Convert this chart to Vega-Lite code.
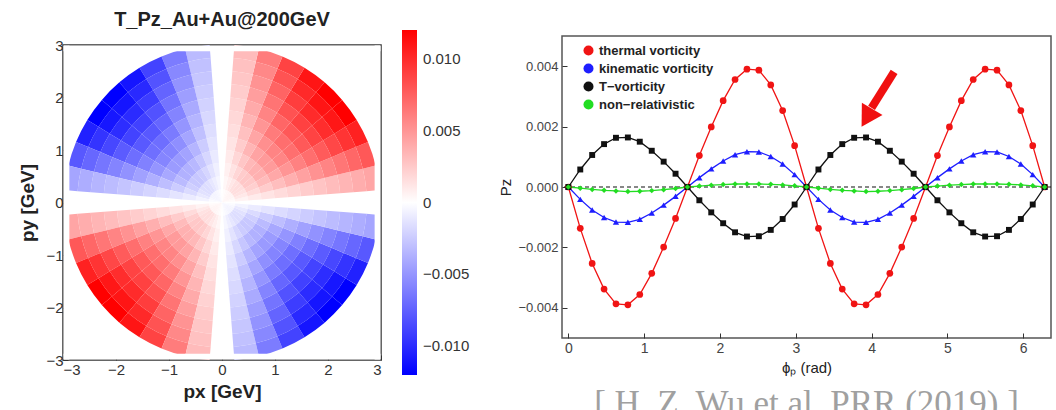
{
"$schema": "https://vega.github.io/schema/vega-lite/v6.json",
"background": "white",
"padding": {"left": 18, "top": 10, "right": 0, "bottom": 0},
"config": {"font": "Liberation Sans", "view": {"stroke": "#333", "strokeWidth": 1.5}, "axis": {"zindex": 1, "grid": false, "domain": false, "tickColor": "#333", "labelColor": "#333", "titleColor": "#222"}},
"datasets": {
"polar": [
{"a":4.5,"b":13.5,"r":0,"s":0.25,"v":0.00018},{"a":4.5,"b":13.5,"r":0.25,"s":0.5,"v":0.00055},{"a":4.5,"b":13.5,"r":0.5,"s":0.75,"v":0.00092},{"a":4.5,"b":13.5,"r":0.75,"s":1,"v":0.00129},{"a":4.5,"b":13.5,"r":1,"s":1.25,"v":0.00166},{"a":4.5,"b":13.5,"r":1.25,"s":1.5,"v":0.00203},{"a":4.5,"b":13.5,"r":1.5,"s":1.75,"v":0.0024},{"a":4.5,"b":13.5,"r":1.75,"s":2,"v":0.00276},{"a":4.5,"b":13.5,"r":2,"s":2.25,"v":0.00313},{"a":4.5,"b":13.5,"r":2.25,"s":2.5,"v":0.0035},{"a":4.5,"b":13.5,"r":2.5,"s":2.75,"v":0.00387},{"a":4.5,"b":13.5,"r":2.75,"s":3,"v":0.00424},
{"a":13.5,"b":22.5,"r":0,"s":0.25,"v":0.00034},{"a":13.5,"b":22.5,"r":0.25,"s":0.5,"v":0.00102},{"a":13.5,"b":22.5,"r":0.5,"s":0.75,"v":0.0017},{"a":13.5,"b":22.5,"r":0.75,"s":1,"v":0.00239},{"a":13.5,"b":22.5,"r":1,"s":1.25,"v":0.00307},{"a":13.5,"b":22.5,"r":1.25,"s":1.5,"v":0.00375},{"a":13.5,"b":22.5,"r":1.5,"s":1.75,"v":0.00443},{"a":13.5,"b":22.5,"r":1.75,"s":2,"v":0.00511},{"a":13.5,"b":22.5,"r":2,"s":2.25,"v":0.00579},{"a":13.5,"b":22.5,"r":2.25,"s":2.5,"v":0.00647},{"a":13.5,"b":22.5,"r":2.5,"s":2.75,"v":0.00716},{"a":13.5,"b":22.5,"r":2.75,"s":3,"v":0.00784},
{"a":22.5,"b":31.5,"r":0,"s":0.25,"v":0.00046},{"a":22.5,"b":31.5,"r":0.25,"s":0.5,"v":0.00137},{"a":22.5,"b":31.5,"r":0.5,"s":0.75,"v":0.00228},{"a":22.5,"b":31.5,"r":0.75,"s":1,"v":0.00319},{"a":22.5,"b":31.5,"r":1,"s":1.25,"v":0.0041},{"a":22.5,"b":31.5,"r":1.25,"s":1.5,"v":0.00501},{"a":22.5,"b":31.5,"r":1.5,"s":1.75,"v":0.00592},{"a":22.5,"b":31.5,"r":1.75,"s":2,"v":0.00683},{"a":22.5,"b":31.5,"r":2,"s":2.25,"v":0.00774},{"a":22.5,"b":31.5,"r":2.25,"s":2.5,"v":0.00865},{"a":22.5,"b":31.5,"r":2.5,"s":2.75,"v":0.00956},{"a":22.5,"b":31.5,"r":2.75,"s":3,"v":0.01047},
{"a":31.5,"b":40.5,"r":0,"s":0.25,"v":0.00052},{"a":31.5,"b":40.5,"r":0.25,"s":0.5,"v":0.00156},{"a":31.5,"b":40.5,"r":0.5,"s":0.75,"v":0.0026},{"a":31.5,"b":40.5,"r":0.75,"s":1,"v":0.00365},{"a":31.5,"b":40.5,"r":1,"s":1.25,"v":0.00469},{"a":31.5,"b":40.5,"r":1.25,"s":1.5,"v":0.00573},{"a":31.5,"b":40.5,"r":1.5,"s":1.75,"v":0.00677},{"a":31.5,"b":40.5,"r":1.75,"s":2,"v":0.00781},{"a":31.5,"b":40.5,"r":2,"s":2.25,"v":0.00885},{"a":31.5,"b":40.5,"r":2.25,"s":2.5,"v":0.0099},{"a":31.5,"b":40.5,"r":2.5,"s":2.75,"v":0.01094},{"a":31.5,"b":40.5,"r":2.75,"s":3,"v":0.01198},
{"a":40.5,"b":49.5,"r":0,"s":0.25,"v":0.00053},{"a":40.5,"b":49.5,"r":0.25,"s":0.5,"v":0.00158},{"a":40.5,"b":49.5,"r":0.5,"s":0.75,"v":0.00263},{"a":40.5,"b":49.5,"r":0.75,"s":1,"v":0.00368},{"a":40.5,"b":49.5,"r":1,"s":1.25,"v":0.00473},{"a":40.5,"b":49.5,"r":1.25,"s":1.5,"v":0.00578},{"a":40.5,"b":49.5,"r":1.5,"s":1.75,"v":0.00683},{"a":40.5,"b":49.5,"r":1.75,"s":2,"v":0.00788},{"a":40.5,"b":49.5,"r":2,"s":2.25,"v":0.00893},{"a":40.5,"b":49.5,"r":2.25,"s":2.5,"v":0.00998},{"a":40.5,"b":49.5,"r":2.5,"s":2.75,"v":0.01103},{"a":40.5,"b":49.5,"r":2.75,"s":3,"v":0.01208},
{"a":49.5,"b":58.5,"r":0,"s":0.25,"v":0.00048},{"a":49.5,"b":58.5,"r":0.25,"s":0.5,"v":0.00144},{"a":49.5,"b":58.5,"r":0.5,"s":0.75,"v":0.0024},{"a":49.5,"b":58.5,"r":0.75,"s":1,"v":0.00336},{"a":49.5,"b":58.5,"r":1,"s":1.25,"v":0.00431},{"a":49.5,"b":58.5,"r":1.25,"s":1.5,"v":0.00527},{"a":49.5,"b":58.5,"r":1.5,"s":1.75,"v":0.00623},{"a":49.5,"b":58.5,"r":1.75,"s":2,"v":0.00719},{"a":49.5,"b":58.5,"r":2,"s":2.25,"v":0.00815},{"a":49.5,"b":58.5,"r":2.25,"s":2.5,"v":0.00911},{"a":49.5,"b":58.5,"r":2.5,"s":2.75,"v":0.01007},{"a":49.5,"b":58.5,"r":2.75,"s":3,"v":0.01102},
{"a":58.5,"b":67.5,"r":0,"s":0.25,"v":0.00038},{"a":58.5,"b":67.5,"r":0.25,"s":0.5,"v":0.00115},{"a":58.5,"b":67.5,"r":0.5,"s":0.75,"v":0.00192},{"a":58.5,"b":67.5,"r":0.75,"s":1,"v":0.00269},{"a":58.5,"b":67.5,"r":1,"s":1.25,"v":0.00346},{"a":58.5,"b":67.5,"r":1.25,"s":1.5,"v":0.00423},{"a":58.5,"b":67.5,"r":1.5,"s":1.75,"v":0.005},{"a":58.5,"b":67.5,"r":1.75,"s":2,"v":0.00577},{"a":58.5,"b":67.5,"r":2,"s":2.25,"v":0.00654},{"a":58.5,"b":67.5,"r":2.25,"s":2.5,"v":0.00731},{"a":58.5,"b":67.5,"r":2.5,"s":2.75,"v":0.00808},{"a":58.5,"b":67.5,"r":2.75,"s":3,"v":0.00885},
{"a":67.5,"b":76.5,"r":0,"s":0.25,"v":0.00027},{"a":67.5,"b":76.5,"r":0.25,"s":0.5,"v":0.0008},{"a":67.5,"b":76.5,"r":0.5,"s":0.75,"v":0.00134},{"a":67.5,"b":76.5,"r":0.75,"s":1,"v":0.00187},{"a":67.5,"b":76.5,"r":1,"s":1.25,"v":0.00241},{"a":67.5,"b":76.5,"r":1.25,"s":1.5,"v":0.00295},{"a":67.5,"b":76.5,"r":1.5,"s":1.75,"v":0.00348},{"a":67.5,"b":76.5,"r":1.75,"s":2,"v":0.00402},{"a":67.5,"b":76.5,"r":2,"s":2.25,"v":0.00455},{"a":67.5,"b":76.5,"r":2.25,"s":2.5,"v":0.00509},{"a":67.5,"b":76.5,"r":2.5,"s":2.75,"v":0.00562},{"a":67.5,"b":76.5,"r":2.75,"s":3,"v":0.00616},
{"a":76.5,"b":85.5,"r":0,"s":0.25,"v":0.00014},{"a":76.5,"b":85.5,"r":0.25,"s":0.5,"v":0.00042},{"a":76.5,"b":85.5,"r":0.5,"s":0.75,"v":0.0007},{"a":76.5,"b":85.5,"r":0.75,"s":1,"v":0.00098},{"a":76.5,"b":85.5,"r":1,"s":1.25,"v":0.00126},{"a":76.5,"b":85.5,"r":1.25,"s":1.5,"v":0.00154},{"a":76.5,"b":85.5,"r":1.5,"s":1.75,"v":0.00182},{"a":76.5,"b":85.5,"r":1.75,"s":2,"v":0.0021},{"a":76.5,"b":85.5,"r":2,"s":2.25,"v":0.00238},{"a":76.5,"b":85.5,"r":2.25,"s":2.5,"v":0.00266},{"a":76.5,"b":85.5,"r":2.5,"s":2.75,"v":0.00294},{"a":76.5,"b":85.5,"r":2.75,"s":3,"v":0.00322},
{"a":94.5,"b":103.5,"r":0,"s":0.25,"v":-0.00014},{"a":94.5,"b":103.5,"r":0.25,"s":0.5,"v":-0.00042},{"a":94.5,"b":103.5,"r":0.5,"s":0.75,"v":-0.0007},{"a":94.5,"b":103.5,"r":0.75,"s":1,"v":-0.00098},{"a":94.5,"b":103.5,"r":1,"s":1.25,"v":-0.00126},{"a":94.5,"b":103.5,"r":1.25,"s":1.5,"v":-0.00154},{"a":94.5,"b":103.5,"r":1.5,"s":1.75,"v":-0.00182},{"a":94.5,"b":103.5,"r":1.75,"s":2,"v":-0.0021},{"a":94.5,"b":103.5,"r":2,"s":2.25,"v":-0.00238},{"a":94.5,"b":103.5,"r":2.25,"s":2.5,"v":-0.00266},{"a":94.5,"b":103.5,"r":2.5,"s":2.75,"v":-0.00294},{"a":94.5,"b":103.5,"r":2.75,"s":3,"v":-0.00322},
{"a":103.5,"b":112.5,"r":0,"s":0.25,"v":-0.00027},{"a":103.5,"b":112.5,"r":0.25,"s":0.5,"v":-0.0008},{"a":103.5,"b":112.5,"r":0.5,"s":0.75,"v":-0.00134},{"a":103.5,"b":112.5,"r":0.75,"s":1,"v":-0.00187},{"a":103.5,"b":112.5,"r":1,"s":1.25,"v":-0.00241},{"a":103.5,"b":112.5,"r":1.25,"s":1.5,"v":-0.00295},{"a":103.5,"b":112.5,"r":1.5,"s":1.75,"v":-0.00348},{"a":103.5,"b":112.5,"r":1.75,"s":2,"v":-0.00402},{"a":103.5,"b":112.5,"r":2,"s":2.25,"v":-0.00455},{"a":103.5,"b":112.5,"r":2.25,"s":2.5,"v":-0.00509},{"a":103.5,"b":112.5,"r":2.5,"s":2.75,"v":-0.00562},{"a":103.5,"b":112.5,"r":2.75,"s":3,"v":-0.00616},
{"a":112.5,"b":121.5,"r":0,"s":0.25,"v":-0.00038},{"a":112.5,"b":121.5,"r":0.25,"s":0.5,"v":-0.00115},{"a":112.5,"b":121.5,"r":0.5,"s":0.75,"v":-0.00192},{"a":112.5,"b":121.5,"r":0.75,"s":1,"v":-0.00269},{"a":112.5,"b":121.5,"r":1,"s":1.25,"v":-0.00346},{"a":112.5,"b":121.5,"r":1.25,"s":1.5,"v":-0.00423},{"a":112.5,"b":121.5,"r":1.5,"s":1.75,"v":-0.005},{"a":112.5,"b":121.5,"r":1.75,"s":2,"v":-0.00577},{"a":112.5,"b":121.5,"r":2,"s":2.25,"v":-0.00654},{"a":112.5,"b":121.5,"r":2.25,"s":2.5,"v":-0.00731},{"a":112.5,"b":121.5,"r":2.5,"s":2.75,"v":-0.00808},{"a":112.5,"b":121.5,"r":2.75,"s":3,"v":-0.00885},
{"a":121.5,"b":130.5,"r":0,"s":0.25,"v":-0.00048},{"a":121.5,"b":130.5,"r":0.25,"s":0.5,"v":-0.00144},{"a":121.5,"b":130.5,"r":0.5,"s":0.75,"v":-0.0024},{"a":121.5,"b":130.5,"r":0.75,"s":1,"v":-0.00336},{"a":121.5,"b":130.5,"r":1,"s":1.25,"v":-0.00431},{"a":121.5,"b":130.5,"r":1.25,"s":1.5,"v":-0.00527},{"a":121.5,"b":130.5,"r":1.5,"s":1.75,"v":-0.00623},{"a":121.5,"b":130.5,"r":1.75,"s":2,"v":-0.00719},{"a":121.5,"b":130.5,"r":2,"s":2.25,"v":-0.00815},{"a":121.5,"b":130.5,"r":2.25,"s":2.5,"v":-0.00911},{"a":121.5,"b":130.5,"r":2.5,"s":2.75,"v":-0.01007},{"a":121.5,"b":130.5,"r":2.75,"s":3,"v":-0.01102},
{"a":130.5,"b":139.5,"r":0,"s":0.25,"v":-0.00053},{"a":130.5,"b":139.5,"r":0.25,"s":0.5,"v":-0.00158},{"a":130.5,"b":139.5,"r":0.5,"s":0.75,"v":-0.00263},{"a":130.5,"b":139.5,"r":0.75,"s":1,"v":-0.00368},{"a":130.5,"b":139.5,"r":1,"s":1.25,"v":-0.00473},{"a":130.5,"b":139.5,"r":1.25,"s":1.5,"v":-0.00578},{"a":130.5,"b":139.5,"r":1.5,"s":1.75,"v":-0.00683},{"a":130.5,"b":139.5,"r":1.75,"s":2,"v":-0.00788},{"a":130.5,"b":139.5,"r":2,"s":2.25,"v":-0.00893},{"a":130.5,"b":139.5,"r":2.25,"s":2.5,"v":-0.00998},{"a":130.5,"b":139.5,"r":2.5,"s":2.75,"v":-0.01103},{"a":130.5,"b":139.5,"r":2.75,"s":3,"v":-0.01208},
{"a":139.5,"b":148.5,"r":0,"s":0.25,"v":-0.00052},{"a":139.5,"b":148.5,"r":0.25,"s":0.5,"v":-0.00156},{"a":139.5,"b":148.5,"r":0.5,"s":0.75,"v":-0.0026},{"a":139.5,"b":148.5,"r":0.75,"s":1,"v":-0.00365},{"a":139.5,"b":148.5,"r":1,"s":1.25,"v":-0.00469},{"a":139.5,"b":148.5,"r":1.25,"s":1.5,"v":-0.00573},{"a":139.5,"b":148.5,"r":1.5,"s":1.75,"v":-0.00677},{"a":139.5,"b":148.5,"r":1.75,"s":2,"v":-0.00781},{"a":139.5,"b":148.5,"r":2,"s":2.25,"v":-0.00885},{"a":139.5,"b":148.5,"r":2.25,"s":2.5,"v":-0.0099},{"a":139.5,"b":148.5,"r":2.5,"s":2.75,"v":-0.01094},{"a":139.5,"b":148.5,"r":2.75,"s":3,"v":-0.01198},
{"a":148.5,"b":157.5,"r":0,"s":0.25,"v":-0.00046},{"a":148.5,"b":157.5,"r":0.25,"s":0.5,"v":-0.00137},{"a":148.5,"b":157.5,"r":0.5,"s":0.75,"v":-0.00228},{"a":148.5,"b":157.5,"r":0.75,"s":1,"v":-0.00319},{"a":148.5,"b":157.5,"r":1,"s":1.25,"v":-0.0041},{"a":148.5,"b":157.5,"r":1.25,"s":1.5,"v":-0.00501},{"a":148.5,"b":157.5,"r":1.5,"s":1.75,"v":-0.00592},{"a":148.5,"b":157.5,"r":1.75,"s":2,"v":-0.00683},{"a":148.5,"b":157.5,"r":2,"s":2.25,"v":-0.00774},{"a":148.5,"b":157.5,"r":2.25,"s":2.5,"v":-0.00865},{"a":148.5,"b":157.5,"r":2.5,"s":2.75,"v":-0.00956},{"a":148.5,"b":157.5,"r":2.75,"s":3,"v":-0.01047},
{"a":157.5,"b":166.5,"r":0,"s":0.25,"v":-0.00034},{"a":157.5,"b":166.5,"r":0.25,"s":0.5,"v":-0.00102},{"a":157.5,"b":166.5,"r":0.5,"s":0.75,"v":-0.0017},{"a":157.5,"b":166.5,"r":0.75,"s":1,"v":-0.00239},{"a":157.5,"b":166.5,"r":1,"s":1.25,"v":-0.00307},{"a":157.5,"b":166.5,"r":1.25,"s":1.5,"v":-0.00375},{"a":157.5,"b":166.5,"r":1.5,"s":1.75,"v":-0.00443},{"a":157.5,"b":166.5,"r":1.75,"s":2,"v":-0.00511},{"a":157.5,"b":166.5,"r":2,"s":2.25,"v":-0.00579},{"a":157.5,"b":166.5,"r":2.25,"s":2.5,"v":-0.00647},{"a":157.5,"b":166.5,"r":2.5,"s":2.75,"v":-0.00716},{"a":157.5,"b":166.5,"r":2.75,"s":3,"v":-0.00784},
{"a":166.5,"b":175.5,"r":0,"s":0.25,"v":-0.00018},{"a":166.5,"b":175.5,"r":0.25,"s":0.5,"v":-0.00055},{"a":166.5,"b":175.5,"r":0.5,"s":0.75,"v":-0.00092},{"a":166.5,"b":175.5,"r":0.75,"s":1,"v":-0.00129},{"a":166.5,"b":175.5,"r":1,"s":1.25,"v":-0.00166},{"a":166.5,"b":175.5,"r":1.25,"s":1.5,"v":-0.00203},{"a":166.5,"b":175.5,"r":1.5,"s":1.75,"v":-0.0024},{"a":166.5,"b":175.5,"r":1.75,"s":2,"v":-0.00276},{"a":166.5,"b":175.5,"r":2,"s":2.25,"v":-0.00313},{"a":166.5,"b":175.5,"r":2.25,"s":2.5,"v":-0.0035},{"a":166.5,"b":175.5,"r":2.5,"s":2.75,"v":-0.00387},{"a":166.5,"b":175.5,"r":2.75,"s":3,"v":-0.00424},
{"a":184.5,"b":193.5,"r":0,"s":0.25,"v":0.00018},{"a":184.5,"b":193.5,"r":0.25,"s":0.5,"v":0.00055},{"a":184.5,"b":193.5,"r":0.5,"s":0.75,"v":0.00092},{"a":184.5,"b":193.5,"r":0.75,"s":1,"v":0.00129},{"a":184.5,"b":193.5,"r":1,"s":1.25,"v":0.00166},{"a":184.5,"b":193.5,"r":1.25,"s":1.5,"v":0.00203},{"a":184.5,"b":193.5,"r":1.5,"s":1.75,"v":0.0024},{"a":184.5,"b":193.5,"r":1.75,"s":2,"v":0.00276},{"a":184.5,"b":193.5,"r":2,"s":2.25,"v":0.00313},{"a":184.5,"b":193.5,"r":2.25,"s":2.5,"v":0.0035},{"a":184.5,"b":193.5,"r":2.5,"s":2.75,"v":0.00387},{"a":184.5,"b":193.5,"r":2.75,"s":3,"v":0.00424},
{"a":193.5,"b":202.5,"r":0,"s":0.25,"v":0.00034},{"a":193.5,"b":202.5,"r":0.25,"s":0.5,"v":0.00102},{"a":193.5,"b":202.5,"r":0.5,"s":0.75,"v":0.0017},{"a":193.5,"b":202.5,"r":0.75,"s":1,"v":0.00239},{"a":193.5,"b":202.5,"r":1,"s":1.25,"v":0.00307},{"a":193.5,"b":202.5,"r":1.25,"s":1.5,"v":0.00375},{"a":193.5,"b":202.5,"r":1.5,"s":1.75,"v":0.00443},{"a":193.5,"b":202.5,"r":1.75,"s":2,"v":0.00511},{"a":193.5,"b":202.5,"r":2,"s":2.25,"v":0.00579},{"a":193.5,"b":202.5,"r":2.25,"s":2.5,"v":0.00647},{"a":193.5,"b":202.5,"r":2.5,"s":2.75,"v":0.00716},{"a":193.5,"b":202.5,"r":2.75,"s":3,"v":0.00784},
{"a":202.5,"b":211.5,"r":0,"s":0.25,"v":0.00046},{"a":202.5,"b":211.5,"r":0.25,"s":0.5,"v":0.00137},{"a":202.5,"b":211.5,"r":0.5,"s":0.75,"v":0.00228},{"a":202.5,"b":211.5,"r":0.75,"s":1,"v":0.00319},{"a":202.5,"b":211.5,"r":1,"s":1.25,"v":0.0041},{"a":202.5,"b":211.5,"r":1.25,"s":1.5,"v":0.00501},{"a":202.5,"b":211.5,"r":1.5,"s":1.75,"v":0.00592},{"a":202.5,"b":211.5,"r":1.75,"s":2,"v":0.00683},{"a":202.5,"b":211.5,"r":2,"s":2.25,"v":0.00774},{"a":202.5,"b":211.5,"r":2.25,"s":2.5,"v":0.00865},{"a":202.5,"b":211.5,"r":2.5,"s":2.75,"v":0.00956},{"a":202.5,"b":211.5,"r":2.75,"s":3,"v":0.01047},
{"a":211.5,"b":220.5,"r":0,"s":0.25,"v":0.00052},{"a":211.5,"b":220.5,"r":0.25,"s":0.5,"v":0.00156},{"a":211.5,"b":220.5,"r":0.5,"s":0.75,"v":0.0026},{"a":211.5,"b":220.5,"r":0.75,"s":1,"v":0.00365},{"a":211.5,"b":220.5,"r":1,"s":1.25,"v":0.00469},{"a":211.5,"b":220.5,"r":1.25,"s":1.5,"v":0.00573},{"a":211.5,"b":220.5,"r":1.5,"s":1.75,"v":0.00677},{"a":211.5,"b":220.5,"r":1.75,"s":2,"v":0.00781},{"a":211.5,"b":220.5,"r":2,"s":2.25,"v":0.00885},{"a":211.5,"b":220.5,"r":2.25,"s":2.5,"v":0.0099},{"a":211.5,"b":220.5,"r":2.5,"s":2.75,"v":0.01094},{"a":211.5,"b":220.5,"r":2.75,"s":3,"v":0.01198},
{"a":220.5,"b":229.5,"r":0,"s":0.25,"v":0.00053},{"a":220.5,"b":229.5,"r":0.25,"s":0.5,"v":0.00158},{"a":220.5,"b":229.5,"r":0.5,"s":0.75,"v":0.00263},{"a":220.5,"b":229.5,"r":0.75,"s":1,"v":0.00368},{"a":220.5,"b":229.5,"r":1,"s":1.25,"v":0.00473},{"a":220.5,"b":229.5,"r":1.25,"s":1.5,"v":0.00578},{"a":220.5,"b":229.5,"r":1.5,"s":1.75,"v":0.00683},{"a":220.5,"b":229.5,"r":1.75,"s":2,"v":0.00788},{"a":220.5,"b":229.5,"r":2,"s":2.25,"v":0.00893},{"a":220.5,"b":229.5,"r":2.25,"s":2.5,"v":0.00998},{"a":220.5,"b":229.5,"r":2.5,"s":2.75,"v":0.01103},{"a":220.5,"b":229.5,"r":2.75,"s":3,"v":0.01208},
{"a":229.5,"b":238.5,"r":0,"s":0.25,"v":0.00048},{"a":229.5,"b":238.5,"r":0.25,"s":0.5,"v":0.00144},{"a":229.5,"b":238.5,"r":0.5,"s":0.75,"v":0.0024},{"a":229.5,"b":238.5,"r":0.75,"s":1,"v":0.00336},{"a":229.5,"b":238.5,"r":1,"s":1.25,"v":0.00431},{"a":229.5,"b":238.5,"r":1.25,"s":1.5,"v":0.00527},{"a":229.5,"b":238.5,"r":1.5,"s":1.75,"v":0.00623},{"a":229.5,"b":238.5,"r":1.75,"s":2,"v":0.00719},{"a":229.5,"b":238.5,"r":2,"s":2.25,"v":0.00815},{"a":229.5,"b":238.5,"r":2.25,"s":2.5,"v":0.00911},{"a":229.5,"b":238.5,"r":2.5,"s":2.75,"v":0.01007},{"a":229.5,"b":238.5,"r":2.75,"s":3,"v":0.01102},
{"a":238.5,"b":247.5,"r":0,"s":0.25,"v":0.00038},{"a":238.5,"b":247.5,"r":0.25,"s":0.5,"v":0.00115},{"a":238.5,"b":247.5,"r":0.5,"s":0.75,"v":0.00192},{"a":238.5,"b":247.5,"r":0.75,"s":1,"v":0.00269},{"a":238.5,"b":247.5,"r":1,"s":1.25,"v":0.00346},{"a":238.5,"b":247.5,"r":1.25,"s":1.5,"v":0.00423},{"a":238.5,"b":247.5,"r":1.5,"s":1.75,"v":0.005},{"a":238.5,"b":247.5,"r":1.75,"s":2,"v":0.00577},{"a":238.5,"b":247.5,"r":2,"s":2.25,"v":0.00654},{"a":238.5,"b":247.5,"r":2.25,"s":2.5,"v":0.00731},{"a":238.5,"b":247.5,"r":2.5,"s":2.75,"v":0.00808},{"a":238.5,"b":247.5,"r":2.75,"s":3,"v":0.00885},
{"a":247.5,"b":256.5,"r":0,"s":0.25,"v":0.00027},{"a":247.5,"b":256.5,"r":0.25,"s":0.5,"v":0.0008},{"a":247.5,"b":256.5,"r":0.5,"s":0.75,"v":0.00134},{"a":247.5,"b":256.5,"r":0.75,"s":1,"v":0.00187},{"a":247.5,"b":256.5,"r":1,"s":1.25,"v":0.00241},{"a":247.5,"b":256.5,"r":1.25,"s":1.5,"v":0.00295},{"a":247.5,"b":256.5,"r":1.5,"s":1.75,"v":0.00348},{"a":247.5,"b":256.5,"r":1.75,"s":2,"v":0.00402},{"a":247.5,"b":256.5,"r":2,"s":2.25,"v":0.00455},{"a":247.5,"b":256.5,"r":2.25,"s":2.5,"v":0.00509},{"a":247.5,"b":256.5,"r":2.5,"s":2.75,"v":0.00562},{"a":247.5,"b":256.5,"r":2.75,"s":3,"v":0.00616},
{"a":256.5,"b":265.5,"r":0,"s":0.25,"v":0.00014},{"a":256.5,"b":265.5,"r":0.25,"s":0.5,"v":0.00042},{"a":256.5,"b":265.5,"r":0.5,"s":0.75,"v":0.0007},{"a":256.5,"b":265.5,"r":0.75,"s":1,"v":0.00098},{"a":256.5,"b":265.5,"r":1,"s":1.25,"v":0.00126},{"a":256.5,"b":265.5,"r":1.25,"s":1.5,"v":0.00154},{"a":256.5,"b":265.5,"r":1.5,"s":1.75,"v":0.00182},{"a":256.5,"b":265.5,"r":1.75,"s":2,"v":0.0021},{"a":256.5,"b":265.5,"r":2,"s":2.25,"v":0.00238},{"a":256.5,"b":265.5,"r":2.25,"s":2.5,"v":0.00266},{"a":256.5,"b":265.5,"r":2.5,"s":2.75,"v":0.00294},{"a":256.5,"b":265.5,"r":2.75,"s":3,"v":0.00322},
{"a":274.5,"b":283.5,"r":0,"s":0.25,"v":-0.00014},{"a":274.5,"b":283.5,"r":0.25,"s":0.5,"v":-0.00042},{"a":274.5,"b":283.5,"r":0.5,"s":0.75,"v":-0.0007},{"a":274.5,"b":283.5,"r":0.75,"s":1,"v":-0.00098},{"a":274.5,"b":283.5,"r":1,"s":1.25,"v":-0.00126},{"a":274.5,"b":283.5,"r":1.25,"s":1.5,"v":-0.00154},{"a":274.5,"b":283.5,"r":1.5,"s":1.75,"v":-0.00182},{"a":274.5,"b":283.5,"r":1.75,"s":2,"v":-0.0021},{"a":274.5,"b":283.5,"r":2,"s":2.25,"v":-0.00238},{"a":274.5,"b":283.5,"r":2.25,"s":2.5,"v":-0.00266},{"a":274.5,"b":283.5,"r":2.5,"s":2.75,"v":-0.00294},{"a":274.5,"b":283.5,"r":2.75,"s":3,"v":-0.00322},
{"a":283.5,"b":292.5,"r":0,"s":0.25,"v":-0.00027},{"a":283.5,"b":292.5,"r":0.25,"s":0.5,"v":-0.0008},{"a":283.5,"b":292.5,"r":0.5,"s":0.75,"v":-0.00134},{"a":283.5,"b":292.5,"r":0.75,"s":1,"v":-0.00187},{"a":283.5,"b":292.5,"r":1,"s":1.25,"v":-0.00241},{"a":283.5,"b":292.5,"r":1.25,"s":1.5,"v":-0.00295},{"a":283.5,"b":292.5,"r":1.5,"s":1.75,"v":-0.00348},{"a":283.5,"b":292.5,"r":1.75,"s":2,"v":-0.00402},{"a":283.5,"b":292.5,"r":2,"s":2.25,"v":-0.00455},{"a":283.5,"b":292.5,"r":2.25,"s":2.5,"v":-0.00509},{"a":283.5,"b":292.5,"r":2.5,"s":2.75,"v":-0.00562},{"a":283.5,"b":292.5,"r":2.75,"s":3,"v":-0.00616},
{"a":292.5,"b":301.5,"r":0,"s":0.25,"v":-0.00038},{"a":292.5,"b":301.5,"r":0.25,"s":0.5,"v":-0.00115},{"a":292.5,"b":301.5,"r":0.5,"s":0.75,"v":-0.00192},{"a":292.5,"b":301.5,"r":0.75,"s":1,"v":-0.00269},{"a":292.5,"b":301.5,"r":1,"s":1.25,"v":-0.00346},{"a":292.5,"b":301.5,"r":1.25,"s":1.5,"v":-0.00423},{"a":292.5,"b":301.5,"r":1.5,"s":1.75,"v":-0.005},{"a":292.5,"b":301.5,"r":1.75,"s":2,"v":-0.00577},{"a":292.5,"b":301.5,"r":2,"s":2.25,"v":-0.00654},{"a":292.5,"b":301.5,"r":2.25,"s":2.5,"v":-0.00731},{"a":292.5,"b":301.5,"r":2.5,"s":2.75,"v":-0.00808},{"a":292.5,"b":301.5,"r":2.75,"s":3,"v":-0.00885},
{"a":301.5,"b":310.5,"r":0,"s":0.25,"v":-0.00048},{"a":301.5,"b":310.5,"r":0.25,"s":0.5,"v":-0.00144},{"a":301.5,"b":310.5,"r":0.5,"s":0.75,"v":-0.0024},{"a":301.5,"b":310.5,"r":0.75,"s":1,"v":-0.00336},{"a":301.5,"b":310.5,"r":1,"s":1.25,"v":-0.00431},{"a":301.5,"b":310.5,"r":1.25,"s":1.5,"v":-0.00527},{"a":301.5,"b":310.5,"r":1.5,"s":1.75,"v":-0.00623},{"a":301.5,"b":310.5,"r":1.75,"s":2,"v":-0.00719},{"a":301.5,"b":310.5,"r":2,"s":2.25,"v":-0.00815},{"a":301.5,"b":310.5,"r":2.25,"s":2.5,"v":-0.00911},{"a":301.5,"b":310.5,"r":2.5,"s":2.75,"v":-0.01007},{"a":301.5,"b":310.5,"r":2.75,"s":3,"v":-0.01102},
{"a":310.5,"b":319.5,"r":0,"s":0.25,"v":-0.00053},{"a":310.5,"b":319.5,"r":0.25,"s":0.5,"v":-0.00158},{"a":310.5,"b":319.5,"r":0.5,"s":0.75,"v":-0.00263},{"a":310.5,"b":319.5,"r":0.75,"s":1,"v":-0.00368},{"a":310.5,"b":319.5,"r":1,"s":1.25,"v":-0.00473},{"a":310.5,"b":319.5,"r":1.25,"s":1.5,"v":-0.00578},{"a":310.5,"b":319.5,"r":1.5,"s":1.75,"v":-0.00683},{"a":310.5,"b":319.5,"r":1.75,"s":2,"v":-0.00788},{"a":310.5,"b":319.5,"r":2,"s":2.25,"v":-0.00893},{"a":310.5,"b":319.5,"r":2.25,"s":2.5,"v":-0.00998},{"a":310.5,"b":319.5,"r":2.5,"s":2.75,"v":-0.01103},{"a":310.5,"b":319.5,"r":2.75,"s":3,"v":-0.01208},
{"a":319.5,"b":328.5,"r":0,"s":0.25,"v":-0.00052},{"a":319.5,"b":328.5,"r":0.25,"s":0.5,"v":-0.00156},{"a":319.5,"b":328.5,"r":0.5,"s":0.75,"v":-0.0026},{"a":319.5,"b":328.5,"r":0.75,"s":1,"v":-0.00365},{"a":319.5,"b":328.5,"r":1,"s":1.25,"v":-0.00469},{"a":319.5,"b":328.5,"r":1.25,"s":1.5,"v":-0.00573},{"a":319.5,"b":328.5,"r":1.5,"s":1.75,"v":-0.00677},{"a":319.5,"b":328.5,"r":1.75,"s":2,"v":-0.00781},{"a":319.5,"b":328.5,"r":2,"s":2.25,"v":-0.00885},{"a":319.5,"b":328.5,"r":2.25,"s":2.5,"v":-0.0099},{"a":319.5,"b":328.5,"r":2.5,"s":2.75,"v":-0.01094},{"a":319.5,"b":328.5,"r":2.75,"s":3,"v":-0.01198},
{"a":328.5,"b":337.5,"r":0,"s":0.25,"v":-0.00046},{"a":328.5,"b":337.5,"r":0.25,"s":0.5,"v":-0.00137},{"a":328.5,"b":337.5,"r":0.5,"s":0.75,"v":-0.00228},{"a":328.5,"b":337.5,"r":0.75,"s":1,"v":-0.00319},{"a":328.5,"b":337.5,"r":1,"s":1.25,"v":-0.0041},{"a":328.5,"b":337.5,"r":1.25,"s":1.5,"v":-0.00501},{"a":328.5,"b":337.5,"r":1.5,"s":1.75,"v":-0.00592},{"a":328.5,"b":337.5,"r":1.75,"s":2,"v":-0.00683},{"a":328.5,"b":337.5,"r":2,"s":2.25,"v":-0.00774},{"a":328.5,"b":337.5,"r":2.25,"s":2.5,"v":-0.00865},{"a":328.5,"b":337.5,"r":2.5,"s":2.75,"v":-0.00956},{"a":328.5,"b":337.5,"r":2.75,"s":3,"v":-0.01047},
{"a":337.5,"b":346.5,"r":0,"s":0.25,"v":-0.00034},{"a":337.5,"b":346.5,"r":0.25,"s":0.5,"v":-0.00102},{"a":337.5,"b":346.5,"r":0.5,"s":0.75,"v":-0.0017},{"a":337.5,"b":346.5,"r":0.75,"s":1,"v":-0.00239},{"a":337.5,"b":346.5,"r":1,"s":1.25,"v":-0.00307},{"a":337.5,"b":346.5,"r":1.25,"s":1.5,"v":-0.00375},{"a":337.5,"b":346.5,"r":1.5,"s":1.75,"v":-0.00443},{"a":337.5,"b":346.5,"r":1.75,"s":2,"v":-0.00511},{"a":337.5,"b":346.5,"r":2,"s":2.25,"v":-0.00579},{"a":337.5,"b":346.5,"r":2.25,"s":2.5,"v":-0.00647},{"a":337.5,"b":346.5,"r":2.5,"s":2.75,"v":-0.00716},{"a":337.5,"b":346.5,"r":2.75,"s":3,"v":-0.00784},
{"a":346.5,"b":355.5,"r":0,"s":0.25,"v":-0.00018},{"a":346.5,"b":355.5,"r":0.25,"s":0.5,"v":-0.00055},{"a":346.5,"b":355.5,"r":0.5,"s":0.75,"v":-0.00092},{"a":346.5,"b":355.5,"r":0.75,"s":1,"v":-0.00129},{"a":346.5,"b":355.5,"r":1,"s":1.25,"v":-0.00166},{"a":346.5,"b":355.5,"r":1.25,"s":1.5,"v":-0.00203},{"a":346.5,"b":355.5,"r":1.5,"s":1.75,"v":-0.0024},{"a":346.5,"b":355.5,"r":1.75,"s":2,"v":-0.00276},{"a":346.5,"b":355.5,"r":2,"s":2.25,"v":-0.00313},{"a":346.5,"b":355.5,"r":2.25,"s":2.5,"v":-0.0035},{"a":346.5,"b":355.5,"r":2.5,"s":2.75,"v":-0.00387},{"a":346.5,"b":355.5,"r":2.75,"s":3,"v":-0.00424}
],
"curves": [
{"x":0,"s":"thermal vorticity","y":0},{"x":0.157,"s":"thermal vorticity","y":-0.00137},{"x":0.314,"s":"thermal vorticity","y":-0.00253},{"x":0.471,"s":"thermal vorticity","y":-0.00338},{"x":0.628,"s":"thermal vorticity","y":-0.00387},{"x":0.785,"s":"thermal vorticity","y":-0.0039},{"x":0.942,"s":"thermal vorticity","y":-0.00356},{"x":1.1,"s":"thermal vorticity","y":-0.00286},{"x":1.257,"s":"thermal vorticity","y":-0.00199},{"x":1.414,"s":"thermal vorticity","y":-0.00104},{"x":1.571,"s":"thermal vorticity","y":0},{"x":1.728,"s":"thermal vorticity","y":0.00104},{"x":1.885,"s":"thermal vorticity","y":0.00199},{"x":2.042,"s":"thermal vorticity","y":0.00286},{"x":2.199,"s":"thermal vorticity","y":0.00356},{"x":2.356,"s":"thermal vorticity","y":0.0039},{"x":2.513,"s":"thermal vorticity","y":0.00387},{"x":2.67,"s":"thermal vorticity","y":0.00338},{"x":2.827,"s":"thermal vorticity","y":0.00253},{"x":2.985,"s":"thermal vorticity","y":0.00137},{"x":3.142,"s":"thermal vorticity","y":0},{"x":3.299,"s":"thermal vorticity","y":-0.00137},{"x":3.456,"s":"thermal vorticity","y":-0.00253},{"x":3.613,"s":"thermal vorticity","y":-0.00338},{"x":3.77,"s":"thermal vorticity","y":-0.00387},{"x":3.927,"s":"thermal vorticity","y":-0.0039},{"x":4.084,"s":"thermal vorticity","y":-0.00356},{"x":4.241,"s":"thermal vorticity","y":-0.00286},{"x":4.398,"s":"thermal vorticity","y":-0.00199},{"x":4.555,"s":"thermal vorticity","y":-0.00104},{"x":4.712,"s":"thermal vorticity","y":0},{"x":4.869,"s":"thermal vorticity","y":0.00104},{"x":5.027,"s":"thermal vorticity","y":0.00199},{"x":5.184,"s":"thermal vorticity","y":0.00286},{"x":5.341,"s":"thermal vorticity","y":0.00356},{"x":5.498,"s":"thermal vorticity","y":0.0039},{"x":5.655,"s":"thermal vorticity","y":0.00387},{"x":5.812,"s":"thermal vorticity","y":0.00338},{"x":5.969,"s":"thermal vorticity","y":0.00253},{"x":6.126,"s":"thermal vorticity","y":0.00137},{"x":6.283,"s":"thermal vorticity","y":0},
{"x":0,"s":"kinematic vorticity","y":0},{"x":0.157,"s":"kinematic vorticity","y":-0.00041},{"x":0.314,"s":"kinematic vorticity","y":-0.00076},{"x":0.471,"s":"kinematic vorticity","y":-0.00101},{"x":0.628,"s":"kinematic vorticity","y":-0.00116},{"x":0.785,"s":"kinematic vorticity","y":-0.00117},{"x":0.942,"s":"kinematic vorticity","y":-0.00107},{"x":1.1,"s":"kinematic vorticity","y":-0.00086},{"x":1.257,"s":"kinematic vorticity","y":-0.0006},{"x":1.414,"s":"kinematic vorticity","y":-0.00031},{"x":1.571,"s":"kinematic vorticity","y":0},{"x":1.728,"s":"kinematic vorticity","y":0.00031},{"x":1.885,"s":"kinematic vorticity","y":0.0006},{"x":2.042,"s":"kinematic vorticity","y":0.00086},{"x":2.199,"s":"kinematic vorticity","y":0.00107},{"x":2.356,"s":"kinematic vorticity","y":0.00117},{"x":2.513,"s":"kinematic vorticity","y":0.00116},{"x":2.67,"s":"kinematic vorticity","y":0.00101},{"x":2.827,"s":"kinematic vorticity","y":0.00076},{"x":2.985,"s":"kinematic vorticity","y":0.00041},{"x":3.142,"s":"kinematic vorticity","y":0},{"x":3.299,"s":"kinematic vorticity","y":-0.00041},{"x":3.456,"s":"kinematic vorticity","y":-0.00076},{"x":3.613,"s":"kinematic vorticity","y":-0.00101},{"x":3.77,"s":"kinematic vorticity","y":-0.00116},{"x":3.927,"s":"kinematic vorticity","y":-0.00117},{"x":4.084,"s":"kinematic vorticity","y":-0.00107},{"x":4.241,"s":"kinematic vorticity","y":-0.00086},{"x":4.398,"s":"kinematic vorticity","y":-0.0006},{"x":4.555,"s":"kinematic vorticity","y":-0.00031},{"x":4.712,"s":"kinematic vorticity","y":0},{"x":4.869,"s":"kinematic vorticity","y":0.00031},{"x":5.027,"s":"kinematic vorticity","y":0.0006},{"x":5.184,"s":"kinematic vorticity","y":0.00086},{"x":5.341,"s":"kinematic vorticity","y":0.00107},{"x":5.498,"s":"kinematic vorticity","y":0.00117},{"x":5.655,"s":"kinematic vorticity","y":0.00116},{"x":5.812,"s":"kinematic vorticity","y":0.00101},{"x":5.969,"s":"kinematic vorticity","y":0.00076},{"x":6.126,"s":"kinematic vorticity","y":0.00041},{"x":6.283,"s":"kinematic vorticity","y":0},
{"x":0,"s":"T−vorticity","y":0},{"x":0.157,"s":"T−vorticity","y":0.00058},{"x":0.314,"s":"T−vorticity","y":0.00106},{"x":0.471,"s":"T−vorticity","y":0.00142},{"x":0.628,"s":"T−vorticity","y":0.00163},{"x":0.785,"s":"T−vorticity","y":0.00164},{"x":0.942,"s":"T−vorticity","y":0.0015},{"x":1.1,"s":"T−vorticity","y":0.0012},{"x":1.257,"s":"T−vorticity","y":0.00084},{"x":1.414,"s":"T−vorticity","y":0.00044},{"x":1.571,"s":"T−vorticity","y":0},{"x":1.728,"s":"T−vorticity","y":-0.00044},{"x":1.885,"s":"T−vorticity","y":-0.00084},{"x":2.042,"s":"T−vorticity","y":-0.0012},{"x":2.199,"s":"T−vorticity","y":-0.0015},{"x":2.356,"s":"T−vorticity","y":-0.00164},{"x":2.513,"s":"T−vorticity","y":-0.00163},{"x":2.67,"s":"T−vorticity","y":-0.00142},{"x":2.827,"s":"T−vorticity","y":-0.00106},{"x":2.985,"s":"T−vorticity","y":-0.00058},{"x":3.142,"s":"T−vorticity","y":0},{"x":3.299,"s":"T−vorticity","y":0.00058},{"x":3.456,"s":"T−vorticity","y":0.00106},{"x":3.613,"s":"T−vorticity","y":0.00142},{"x":3.77,"s":"T−vorticity","y":0.00163},{"x":3.927,"s":"T−vorticity","y":0.00164},{"x":4.084,"s":"T−vorticity","y":0.0015},{"x":4.241,"s":"T−vorticity","y":0.0012},{"x":4.398,"s":"T−vorticity","y":0.00084},{"x":4.555,"s":"T−vorticity","y":0.00044},{"x":4.712,"s":"T−vorticity","y":0},{"x":4.869,"s":"T−vorticity","y":-0.00044},{"x":5.027,"s":"T−vorticity","y":-0.00084},{"x":5.184,"s":"T−vorticity","y":-0.0012},{"x":5.341,"s":"T−vorticity","y":-0.0015},{"x":5.498,"s":"T−vorticity","y":-0.00164},{"x":5.655,"s":"T−vorticity","y":-0.00163},{"x":5.812,"s":"T−vorticity","y":-0.00142},{"x":5.969,"s":"T−vorticity","y":-0.00106},{"x":6.126,"s":"T−vorticity","y":-0.00058},{"x":6.283,"s":"T−vorticity","y":0},
{"x":0,"s":"non−relativistic","y":0},{"x":0.157,"s":"non−relativistic","y":-0.00004},{"x":0.314,"s":"non−relativistic","y":-0.00008},{"x":0.471,"s":"non−relativistic","y":-0.00011},{"x":0.628,"s":"non−relativistic","y":-0.00013},{"x":0.785,"s":"non−relativistic","y":-0.00015},{"x":0.942,"s":"non−relativistic","y":-0.00014},{"x":1.1,"s":"non−relativistic","y":-0.00012},{"x":1.257,"s":"non−relativistic","y":-0.00009},{"x":1.414,"s":"non−relativistic","y":-0.00005},{"x":1.571,"s":"non−relativistic","y":0},{"x":1.728,"s":"non−relativistic","y":0.00003},{"x":1.885,"s":"non−relativistic","y":0.00006},{"x":2.042,"s":"non−relativistic","y":0.00008},{"x":2.199,"s":"non−relativistic","y":0.0001},{"x":2.356,"s":"non−relativistic","y":0.0001},{"x":2.513,"s":"non−relativistic","y":0.0001},{"x":2.67,"s":"non−relativistic","y":0.00009},{"x":2.827,"s":"non−relativistic","y":0.00007},{"x":2.985,"s":"non−relativistic","y":0.00004},{"x":3.142,"s":"non−relativistic","y":0},{"x":3.299,"s":"non−relativistic","y":-0.00004},{"x":3.456,"s":"non−relativistic","y":-0.00008},{"x":3.613,"s":"non−relativistic","y":-0.00011},{"x":3.77,"s":"non−relativistic","y":-0.00013},{"x":3.927,"s":"non−relativistic","y":-0.00015},{"x":4.084,"s":"non−relativistic","y":-0.00014},{"x":4.241,"s":"non−relativistic","y":-0.00012},{"x":4.398,"s":"non−relativistic","y":-0.00009},{"x":4.555,"s":"non−relativistic","y":-0.00005},{"x":4.712,"s":"non−relativistic","y":0},{"x":4.869,"s":"non−relativistic","y":0.00003},{"x":5.027,"s":"non−relativistic","y":0.00006},{"x":5.184,"s":"non−relativistic","y":0.00008},{"x":5.341,"s":"non−relativistic","y":0.0001},{"x":5.498,"s":"non−relativistic","y":0.0001},{"x":5.655,"s":"non−relativistic","y":0.0001},{"x":5.812,"s":"non−relativistic","y":0.00009},{"x":5.969,"s":"non−relativistic","y":0.00007},{"x":6.126,"s":"non−relativistic","y":0.00004},{"x":6.283,"s":"non−relativistic","y":0}
]
},
"spacing": 28,
"hconcat": [
{
 "spacing": 8,
 "bounds": "flush",
 "vconcat": [
  {
   "width": 318, "height": 1,
   "view": {"stroke": null},
   "title": {"text": "T_Pz_Au+Au@200GeV", "fontSize": 20, "fontWeight": "bold", "offset": 6, "color": "#222"},
   "data": {"values": []},
   "mark": {"type": "point", "opacity": 0},
   "encoding": {}
  },
  {
   "width": 318, "height": 315,
   "layer": [
    {
     "data": {"name": "polar"},
     "mark": {"type": "arc"},
     "encoding": {
      "x": {"datum": 0, "type": "quantitative", "scale": {"domain": [-3, 3], "nice": false, "zero": false}, "axis": {"values": [-3, -2, -1, 0, 1, 2, 3], "format": "d", "title": "px [GeV]", "titleFontSize": 19, "titleFontWeight": "bold", "labelFontSize": 15, "tickSize": -5, "labelPadding": 7, "titlePadding": 5}},
      "y": {"datum": 0, "type": "quantitative", "scale": {"domain": [-3, 3], "nice": false, "zero": false}, "axis": {"values": [-3, -2, -1, 0, 1, 2, 3], "format": "d", "title": "py [GeV]", "titleFontSize": 19, "titleFontWeight": "bold", "labelFontSize": 15, "tickSize": -5, "labelPadding": 5, "titlePadding": 8}},
      "theta": {"field": "a", "type": "quantitative", "stack": null, "scale": {"domain": [90, -270], "zero": false, "nice": false}},
      "theta2": {"field": "b"},
      "radius": {"field": "r", "type": "quantitative", "scale": {"type": "linear", "domain": [0, 3], "range": [0, 158], "zero": true, "nice": false}},
      "radius2": {"field": "s"},
      "color": {"field": "v", "type": "quantitative", "scale": {"domain": [-0.012, 0, 0.012], "range": ["#0000ff", "#ffffff", "#ff0000"], "interpolate": "rgb"},
        "legend": {"orient": "none", "legendX": 339, "legendY": -6, "direction": "vertical", "gradientLength": 345, "gradientThickness": 15, "title": null, "values": [-0.01, -0.005, 0, 0.005, 0.01], "labelExpr": "datum.value == 0 ? '0' : format(datum.value, '.3f')", "labelFontSize": 15, "labelColor": "#333", "labelOffset": 6, "gradientStrokeWidth": 0}}
     }
    },
    {
     "data": {"values": [{"x1": 2.88, "x2": 2.99, "y1": -2.99, "y2": 2.99}, {"x1": -2.99, "x2": -2.88, "y1": -2.99, "y2": 2.99}, {"x1": -2.99, "x2": 2.99, "y1": 2.88, "y2": 2.99}, {"x1": -2.99, "x2": 2.99, "y1": -2.99, "y2": -2.88}]},
     "mark": {"type": "rect", "color": "white"},
     "encoding": {
      "x": {"field": "x1", "type": "quantitative"},
      "x2": {"field": "x2"},
      "y": {"field": "y1", "type": "quantitative"},
      "y2": {"field": "y2"}
     }
    }
   ]
  }
 ]
},
{
 "width": 489, "height": 302,
 "view": {"stroke": "#555", "strokeWidth": 1.5},
 "title": {"text": "[ H. Z. Wu et al. PRR (2019) ]", "orient": "bottom", "anchor": "middle", "font": "Liberation Serif", "fontSize": 35, "fontWeight": "normal", "color": "#a0a0a0", "offset": 12},
 "resolve": {"legend": {"color": "independent"}},
 "layer": [
  {
   "data": {"values": [{"y0": 0}]},
   "mark": {"type": "rule", "strokeDash": [4, 3], "color": "#111", "strokeWidth": 1.2},
   "encoding": {"y": {"field": "y0", "type": "quantitative"}}
  },
  {
   "data": {"name": "curves"},
   "mark": {"type": "line"},
   "encoding": {
    "x": {"field": "x", "type": "quantitative", "scale": {"domain": [-0.084, 6.367], "nice": false, "zero": false}, "axis": {"values": [0, 1, 2, 3, 4, 5, 6], "format": "d", "title": "ϕₚ (rad)", "titleFontSize": 15, "titleFontWeight": "normal", "labelFontSize": 14, "labelColor": "#444", "tickSize": -5, "labelPadding": 8, "titlePadding": 5}},
    "y": {"field": "y", "type": "quantitative", "scale": {"domain": [-0.005, 0.005], "nice": false, "zero": false}, "axis": {"values": [-0.004, -0.002, 0, 0.002, 0.004], "format": ".3f", "title": "Pz", "titleFontSize": 15, "titleFontWeight": "normal", "labelFontSize": 13, "labelColor": "#444", "tickSize": -5, "labelPadding": 9, "titlePadding": 4}},
    "color": {"field": "s", "type": "nominal", "scale": {"domain": ["thermal vorticity", "kinematic vorticity", "T−vorticity", "non−relativistic"], "range": ["#f01414", "#1e1eff", "#111111", "#22dd22"]}, "legend": null},
    "strokeWidth": {"field": "s", "type": "nominal", "scale": {"domain": ["thermal vorticity", "kinematic vorticity", "T−vorticity", "non−relativistic"], "range": [1.3, 1.3, 1.3, 2.2]}, "legend": null}
   }
  },
  {
   "data": {"name": "curves"},
   "mark": {"type": "point", "filled": true, "opacity": 1},
   "encoding": {
    "x": {"field": "x", "type": "quantitative"},
    "y": {"field": "y", "type": "quantitative"},
    "color": {"field": "s", "type": "nominal", "legend": {"orient": "none", "legendX": 20, "legendY": 8, "title": null, "labelFontSize": 13, "labelFontWeight": "bold", "labelColor": "#222", "rowPadding": 4, "padding": 0, "labelOffset": 4, "symbolStrokeWidth": 0,
        "encode": {"symbols": {"update": {
          "shape": {"signal": "datum.value === 'thermal vorticity' ? 'circle' : datum.value === 'kinematic vorticity' ? 'triangle-up' : datum.value === 'T−vorticity' ? 'square' : 'diamond'"},
          "size": {"signal": "datum.value === 'thermal vorticity' ? 45 : datum.value === 'kinematic vorticity' ? 30 : datum.value === 'T−vorticity' ? 14 : 25"}}}}}},
    "shape": {"field": "s", "type": "nominal", "scale": {"domain": ["thermal vorticity", "kinematic vorticity", "T−vorticity", "non−relativistic"], "range": ["circle", "triangle-up", "square", "diamond"]}, "legend": {"orient": "none", "legendX": 20, "legendY": 8, "title": null, "labelFontSize": 13, "labelFontWeight": "bold", "labelColor": "#222", "rowPadding": 4, "padding": 0, "labelOffset": 4, "symbolStrokeWidth": 0,
        "encode": {"symbols": {"update": {
          "shape": {"signal": "datum.value === 'thermal vorticity' ? 'circle' : datum.value === 'kinematic vorticity' ? 'triangle-up' : datum.value === 'T−vorticity' ? 'square' : 'diamond'"},
          "size": {"signal": "datum.value === 'thermal vorticity' ? 45 : datum.value === 'kinematic vorticity' ? 30 : datum.value === 'T−vorticity' ? 14 : 25"}}}}}},
    "size": {"field": "s", "type": "nominal", "scale": {"domain": ["thermal vorticity", "kinematic vorticity", "T−vorticity", "non−relativistic"], "range": [45, 30, 12, 25]}, "legend": {"orient": "none", "legendX": 20, "legendY": 8, "title": null, "labelFontSize": 13, "labelFontWeight": "bold", "labelColor": "#222", "rowPadding": 4, "padding": 0, "labelOffset": 4, "symbolStrokeWidth": 0,
        "encode": {"symbols": {"update": {
          "shape": {"signal": "datum.value === 'thermal vorticity' ? 'circle' : datum.value === 'kinematic vorticity' ? 'triangle-up' : datum.value === 'T−vorticity' ? 'square' : 'diamond'"},
          "size": {"signal": "datum.value === 'thermal vorticity' ? 45 : datum.value === 'kinematic vorticity' ? 30 : datum.value === 'T−vorticity' ? 14 : 25"}}}}}}
   }
  },
  {
   "data": {"values": [{"x": 4.297, "y": 0.00381, "xe": 4.0, "ye": 0.00262}]},
   "mark": {"type": "rule", "color": "#f01010", "strokeWidth": 8},
   "encoding": {"x": {"field": "x", "type": "quantitative"}, "y": {"field": "y", "type": "quantitative"}, "x2": {"field": "xe"}, "y2": {"field": "ye"}}
  },
  {
   "data": {"values": [{"x": 3.938, "y": 0.00229}]},
   "mark": {"type": "point", "shape": "triangle-up", "filled": true, "color": "#f01010", "opacity": 1, "size": 576, "angle": 210.7},
   "encoding": {"x": {"field": "x", "type": "quantitative"}, "y": {"field": "y", "type": "quantitative"}}
  }
 ]
}
]
}
